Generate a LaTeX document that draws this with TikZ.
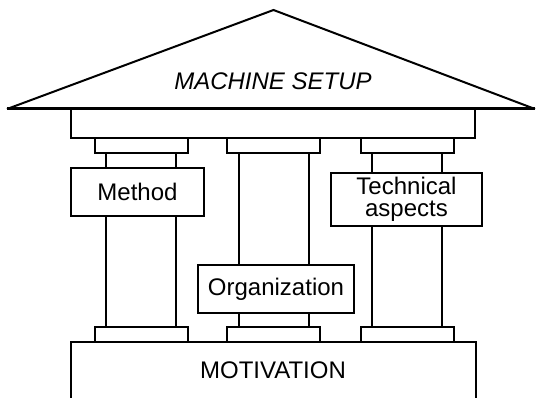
\documentclass[tikz,border=0pt]{standalone}
\usepackage{fontspec}
\setmainfont{Liberation Sans}
\begin{document}
\begin{tikzpicture}[x=1pt,y=-1pt,
  part/.style={draw=black,fill=white,line width=2pt},
  labelbox/.style={draw=black,fill=white,line width=1.3pt,inner sep=0pt,
    font=\fontsize{24}{22}\selectfont,align=center},
  title/.style={font=\fontsize{24}{22}\selectfont,inner sep=0pt}]
\useasboundingbox (0,0) rectangle (536,398);
\clip (0,0) rectangle (536,398);
% plinth
\draw[part] (71,342) rectangle (476,410);
\node[title] (motivation) at (273,370) {MOTIVATION};
% columns
\foreach \c/\n in {141/colA,273.5/colB,407/colC}{
  \draw[part] (\c-35,150) rectangle (\c+35,330);
  \draw[part] (\c-46.5,138) rectangle (\c+46.5,153);
  \draw[part] (\c-46.5,327) rectangle (\c+46.5,342);
}
% architrave
\draw[part] (71,109) rectangle (475,138);
% roof
\draw[fill=white,line width=2pt,line join=miter] (7,109) -- (273.5,10) -- (535,109);
\draw[line width=3pt] (7,109) -- (535,109);
\node[title,font=\fontsize{24}{22}\selectfont\itshape] (setup) at (273,81) {MACHINE SETUP};
% labels
\node[labelbox,minimum width=133pt,minimum height=48pt] (method) at (137.5,192) {Method};
\node[labelbox,minimum width=156pt,minimum height=48pt] (org) at (276,289) {Organization};
\node[labelbox,minimum width=151pt,minimum height=53pt] (tech) at (406.5,199.5) {Technical\\aspects};
\end{tikzpicture}
\end{document}
